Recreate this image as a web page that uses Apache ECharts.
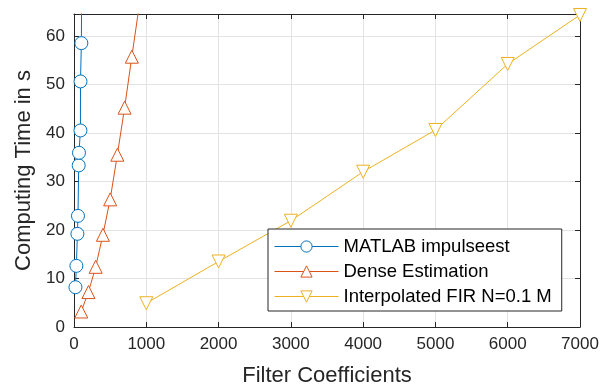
<!DOCTYPE html>
<html>
<head>
	<meta charset="utf-8">
	<title>Computing Time</title>
	<style>
		html, body { margin: 0; padding: 0; background: #fff; }
		#chart1 { width: 602px; height: 387px; }
	</style>
</head>
<body>
	<div id="chart1"></div>

	<script src="https://cdn.jsdelivr.net/npm/echarts@6/dist/echarts.min.js"></script>
	<script>

	// series names
	var names = ['MATLAB impulseest', 'Dense Estimation', 'Interpolated FIR N=0.1 M'];

	// MATLAB impulseest (last point lies above the visible range)
	var impX = [20, 33, 47, 55, 65, 69, 89, 90, 102, 108];
	var impY = [8.2, 12.6, 19.2, 22.9, 33.3, 35.9, 40.5, 50.6, 58.5, 75];

	// Dense Estimation (last point lies above the visible range)
	var denseX = [100, 200, 300, 400, 500, 600, 700, 800, 900];
	var denseY = [3.2, 7.2, 12.4, 19.0, 26.3, 35.5, 45.2, 55.7, 66];

	// Interpolated FIR N=0.1 M
	var firX = [1000, 2000, 3000, 4000, 5000, 6000, 7000];
	var firY = [4.9, 13.5, 21.9, 32.0, 40.6, 54.2, 64.3];

	var xTicks = [0, 1000, 2000, 3000, 4000, 5000, 6000, 7000];
	var yTicks = [0, 10, 20, 30, 40, 50, 60];

	function pairs(xs, ys) {
		var out = [];
		for (var i = 0; i < xs.length; i++) out.push([xs[i], ys[i]]);
		return out;
	}

	var axisCol = '#262626';
	var font = 'Liberation Sans, Arial, sans-serif';

	var myChart = echarts.init(document.getElementById('chart1'));

	function xAx(pos, show) {
		return {
			type: 'value', position: pos, min: 0, max: 7000, interval: 1000,
			name: show ? 'Filter Coefficients' : '',
			nameLocation: 'middle', nameGap: 38,
			nameTextStyle: { color: axisCol, fontSize: 22, fontFamily: font },
			axisLine: { show: true, onZero: false, lineStyle: { color: axisCol, width: 1 } },
			axisTick: { show: true, inside: true, length: 5, lineStyle: { color: axisCol } },
			axisLabel: { show: show, color: axisCol, fontSize: 17, fontFamily: font, margin: 9,
				formatter: function (v) { return xTicks.indexOf(v) >= 0 ? String(v) : ''; } },
			splitLine: { show: show, lineStyle: { color: '#e3e3e3', width: 1 } }
		};
	}
	function yAx(pos, show) {
		return {
			type: 'value', position: pos, min: 0, max: 64.5, interval: 10,
			name: show ? 'Computing Time in s' : '',
			nameLocation: 'middle', nameGap: 38,
			nameTextStyle: { color: axisCol, fontSize: 22, fontFamily: font },
			axisLine: { show: true, onZero: false, lineStyle: { color: axisCol, width: 1 } },
			axisTick: { show: true, inside: true, length: 5, lineStyle: { color: axisCol } },
			axisLabel: { show: show, color: axisCol, fontSize: 17, fontFamily: font, margin: 9, showMaxLabel: false,
				formatter: function (v) { return yTicks.indexOf(v) >= 0 ? String(v) : ''; } },
			splitLine: { show: show, lineStyle: { color: '#e3e3e3', width: 1 } }
		};
	}

	function ser(i, xs, ys, color, symbol, rotate) {
		return {
			name: names[i], type: 'line', data: pairs(xs, ys),
			xAxisIndex: 0, yAxisIndex: 0,
			clip: true, animation: false,
			symbol: symbol, symbolSize: 13, symbolRotate: rotate,
			showAllSymbol: true,
			itemStyle: { color: '#fff', borderColor: color, borderWidth: 1 },
			lineStyle: { color: color, width: 1 },
			emphasis: { disabled: true }
		};
	}

	var option = {
		animation: false,
		grid: { left: 74, right: 22, top: 14, bottom: 60, show: false, outerBoundsMode: 'none', containLabel: false },
		xAxis: [xAx('bottom', true), xAx('top', false)],
		yAxis: [yAx('left', true), yAx('right', false)],
		legend: {
			orient: 'vertical', left: 268, top: 229,
			data: names,
			itemWidth: 64, itemHeight: 14, itemGap: 6,
			padding: [8, 10, 5, 6],
			backgroundColor: '#fff',
			borderColor: axisCol, borderWidth: 1, borderRadius: 0,
			lineStyle: { width: 1 },
			itemStyle: { borderWidth: 1 },
			textStyle: { color: '#000', fontSize: 18.5, fontFamily: font }
		},
		series: [
			ser(0, impX, impY, '#0072BD', 'circle', 0),
			ser(1, denseX, denseY, '#D95319', 'triangle', 0),
			ser(2, firX, firY, '#EDB120', 'triangle', 180)
		]
	};

	myChart.setOption(option);

	</script>
</body>
</html>
